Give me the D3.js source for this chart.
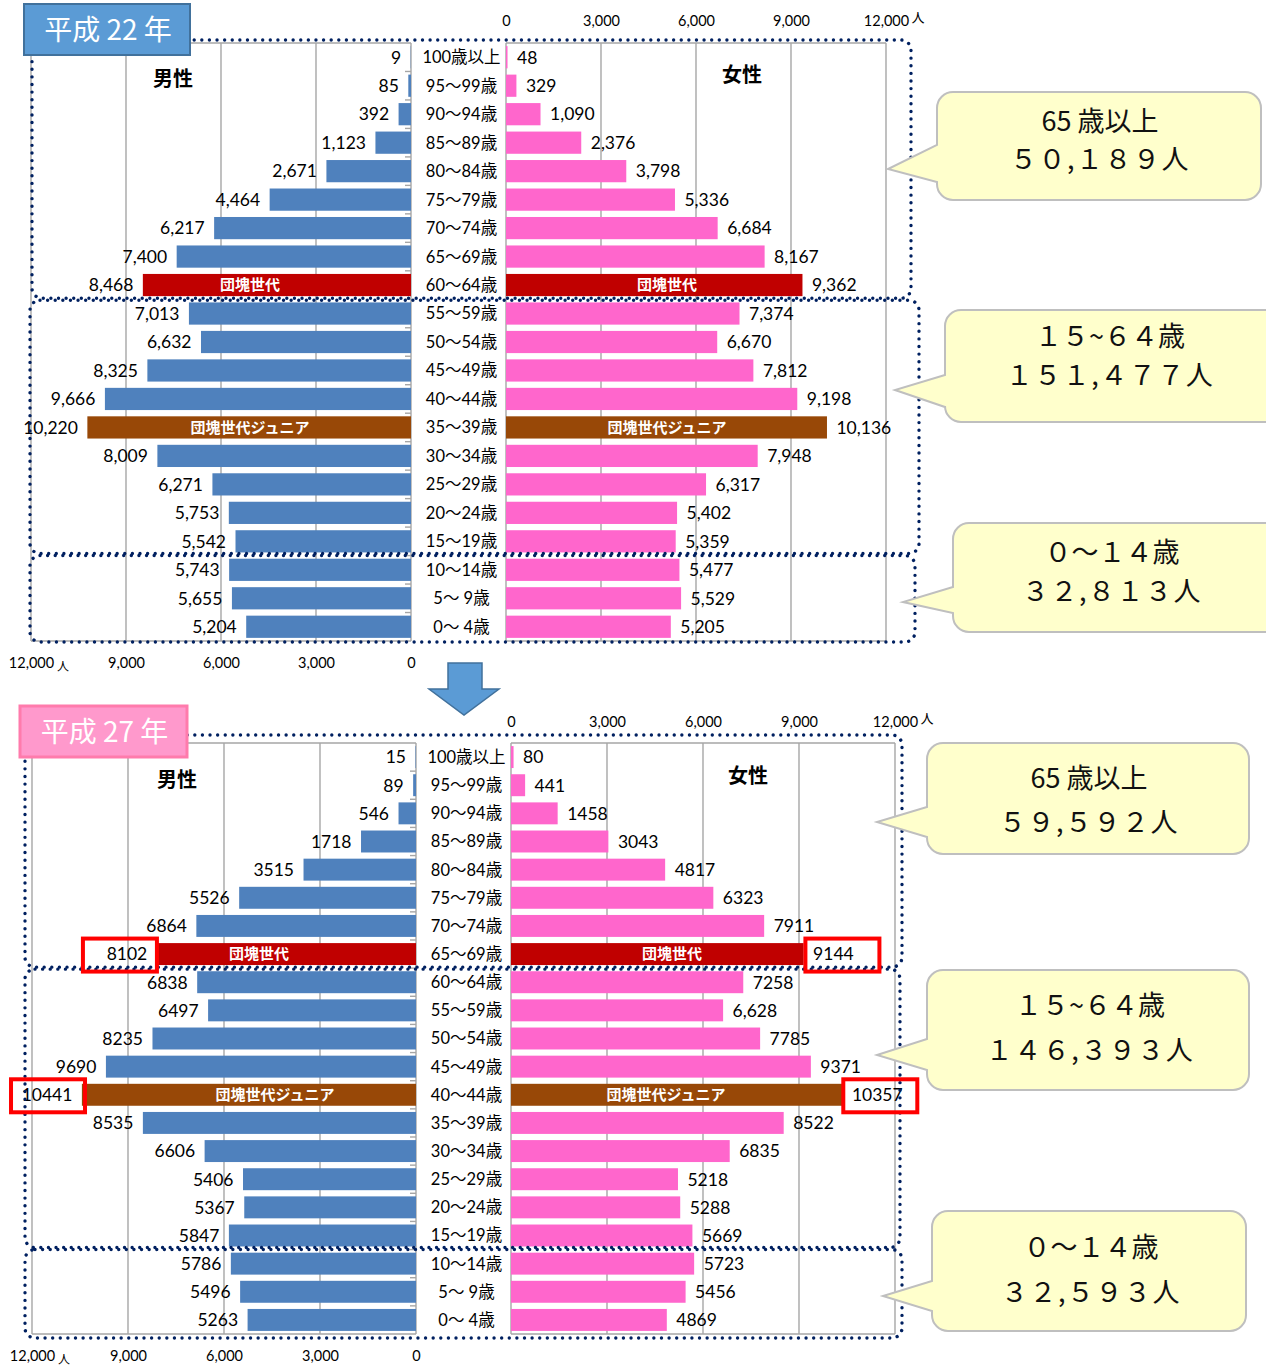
<!DOCTYPE html>
<html><head><meta charset="utf-8">
<script src="https://cdn.jsdelivr.net/npm/d3@7/dist/d3.min.js"></script>
<style>
body{margin:0;background:#fff;}
svg{display:block;}
</style></head><body>
<svg id="chart" width="1266" height="1369"></svg>
<script>
// ---------------- DATA ----------------
const ageGroups = ["100歳以上","95～99歳","90～94歳","85～89歳","80～84歳","75～79歳","70～74歳","65～69歳",
  "60～64歳","55～59歳","50～54歳","45～49歳","40～44歳","35～39歳","30～34歳","25～29歳","20～24歳",
  "15～19歳","10～14歳","5～ 9歳","0～ 4歳"];
const maleH22 = [9,85,392,1123,2671,4464,6217,7400,8468,7013,6632,8325,9666,10220,8009,6271,5753,5542,5743,5655,5204];
const femaleH22 = [48,329,1090,2376,3798,5336,6684,8167,9362,7374,6670,7812,9198,10136,7948,6317,5402,5359,5477,5529,5205];
const maleH27 = [15,89,546,1718,3515,5526,6864,8102,6838,6497,8235,9690,10441,8535,6606,5406,5367,5847,5786,5496,5263];
const femaleH27 = [80,441,1458,3043,4817,6323,7911,9144,7258,6628,7785,9371,10357,8522,6835,5218,5288,5669,5723,5456,4869];
const maleH27Labels = ["15","89","546","1718","3515","5526","6864","8102","6838","6497","8235","9690","10441","8535","6606","5406","5367","5847","5786","5496","5263"];
const femaleH27Labels = ["80","441","1458","3043","4817","6323","7911","9144","7258","6,628","7785","9371","10357","8522","6835","5218","5288","5669","5723","5456","4869"];
const axisTicks = [0, 3000, 6000, 9000, 12000];
const unitLabel = "人";
const titles = ["平成 22 年", "平成 27 年"];
const sexLabels = ["男性", "女性"];
const boomerLabels = ["団塊世代", "団塊世代ジュニア"];
const boomerAgesH22 = ["60～64歳", "35～39歳"];
const boomerAgesH27 = ["65～69歳", "40～44歳"];
const groupNames = ["65 歳以上", "１５~６４歳", "０～１４歳"];
const groupTotalsH22 = ["５０,１８９人", "１５１,４７７人", "３２,８１３人"];
const groupTotalsH27 = ["５９,５９２人", "１４６,３９３人", "３２,５９３人"];
const groupLastAgesH22 = ["60～64歳", "15～19歳"];
const groupLastAgesH27 = ["65～69歳", "15～19歳"];
const highlightAgesH27 = ["65～69歳", "40～44歳"];

// ---------------- STYLE ----------------
const C = {male:"#4F81BD", female:"#FF66CC", boomer:"#C00000", junior:"#984807",
  grid:"#A6A6A6", dot:"#002060", calloutFill:"#FFFFCC", calloutStroke:"#BFBFBF"};
const NUMFONT = "Lato, 'Noto Sans CJK JP', sans-serif";
const JPFONT = "'Noto Sans CJK JP', sans-serif";

const svg = d3.select("#chart");

function calloutPath(x, y, w, h, r, tx, ty, b1, b2) {
  return `M${x+r},${y} H${x+w-r} A${r},${r} 0 0 1 ${x+w},${y+r} V${y+h-r} A${r},${r} 0 0 1 ${x+w-r},${y+h}` +
    ` H${x+r} A${r},${r} 0 0 1 ${x},${y+h-r} V${b2} L${tx},${ty} L${x},${b1} V${y+r} A${r},${r} 0 0 1 ${x+r},${y} Z`;
}

function drawPyramid(cfg) {
  const g = svg.append("g");
  const y = d3.scaleBand().domain(ageGroups).range([cfg.top, cfg.bottom]).paddingInner(0.22).paddingOuter(0.11);
  const step = y.step();
  const xL = d3.scaleLinear().domain([0, 12000]).range([cfg.lz, cfg.lm]);
  const xR = d3.scaleLinear().domain([0, 12000]).range([cfg.rz, cfg.rm]);
  const rowTop = a => cfg.top + ageGroups.indexOf(a) * step;
  const rowBottom = a => rowTop(a) + step;

  // grid + borders
  const grid = g.append("g").attr("stroke", C.grid).attr("stroke-width", 1.4);
  [xL, xR].forEach(x => {
    grid.selectAll(null).data(axisTicks).join("line")
      .attr("x1", d => x(d)).attr("x2", d => x(d)).attr("y1", cfg.top).attr("y2", cfg.bottom);
    [cfg.top, cfg.bottom].forEach(yy => grid.append("line")
      .attr("x1", x(0)).attr("x2", x(12000)).attr("y1", yy).attr("y2", yy));
  });
  // small category ticks
  grid.selectAll(null).data(ageGroups.slice(1)).join("line")
    .attr("x1", xL(0) - 6).attr("x2", xL(0)).attr("y1", d => rowTop(d)).attr("y2", d => rowTop(d));

  const colorOf = (a, base) => a === cfg.boomer[0] ? C.boomer : a === cfg.boomer[1] ? C.junior : base;

  // bars
  g.selectAll(null).data(ageGroups).join("rect")
    .attr("x", (a, i) => xL(cfg.male[i])).attr("y", a => y(a))
    .attr("width", (a, i) => xL(0) - xL(cfg.male[i])).attr("height", y.bandwidth())
    .attr("fill", a => colorOf(a, C.male));
  g.selectAll(null).data(ageGroups).join("rect")
    .attr("x", xR(0)).attr("y", a => y(a))
    .attr("width", (a, i) => xR(cfg.female[i]) - xR(0)).attr("height", y.bandwidth())
    .attr("fill", a => colorOf(a, C.female));

  // boomer labels inside bars
  cfg.boomer.forEach((a, k) => {
    const yy = y(a) + y.bandwidth() / 2;
    g.append("text").attr("x", cfg.bLabelL[k]).attr("y", yy).attr("dy", "0.36em")
      .attr("text-anchor", "middle").attr("fill", "#fff").attr("font-weight", "bold")
      .attr("font-family", JPFONT).attr("font-size", 15).text(boomerLabels[k]);
    g.append("text").attr("x", cfg.bLabelR[k]).attr("y", yy).attr("dy", "0.36em")
      .attr("text-anchor", "middle").attr("fill", "#fff").attr("font-weight", "bold")
      .attr("font-family", JPFONT).attr("font-size", 15).text(boomerLabels[k]);
  });

  // value labels
  const lab = g.append("g").attr("font-family", NUMFONT).attr("font-size", 17.5).attr("fill", "#000");
  const maleText = lab.selectAll(null).data(ageGroups).join("text")
    .attr("x", (a, i) => xL(cfg.male[i]) - 9.5).attr("y", a => y(a) + y.bandwidth() / 2).attr("dy", "0.36em")
    .attr("text-anchor", "end").text((a, i) => cfg.maleLabels[i]);
  const femText = lab.selectAll(null).data(ageGroups).join("text")
    .attr("x", (a, i) => xR(cfg.female[i]) + 9.5).attr("y", a => y(a) + y.bandwidth() / 2).attr("dy", "0.36em")
    .attr("text-anchor", "start").text((a, i) => cfg.femaleLabels[i]);

  // age labels
  g.append("g").attr("font-family", NUMFONT).attr("font-size", 16.5).attr("fill", "#000")
    .selectAll(null).data(ageGroups).join("text")
    .attr("x", (xL(0) + xR(0)) / 2 + 3).attr("y", a => y(a) + y.bandwidth() / 2).attr("dy", "0.36em")
    .attr("text-anchor", "middle").text(a => a);

  // sex labels
  g.append("text").attr("x", cfg.sexL[0]).attr("y", cfg.sexL[1]).attr("text-anchor", "middle")
    .attr("dy", "0.36em").attr("font-family", JPFONT).attr("font-weight", "bold").attr("font-size", 20).text(sexLabels[0]);
  g.append("text").attr("x", cfg.sexR[0]).attr("y", cfg.sexR[1]).attr("text-anchor", "middle")
    .attr("dy", "0.36em").attr("font-family", JPFONT).attr("font-weight", "bold").attr("font-size", 20).text(sexLabels[1]);

  // axes
  const fmt = d3.format(",");
  const ax1 = g.append("g").attr("transform", `translate(0,${cfg.topAxisY})`)
    .call(d3.axisTop(xR).tickValues(axisTicks).tickFormat(fmt).tickSize(0).tickPadding(0));
  const ax2 = g.append("g").attr("transform", `translate(0,${cfg.bottomAxisY})`)
    .call(d3.axisBottom(xL).tickValues(axisTicks).tickFormat(fmt).tickSize(0).tickPadding(0));
  [ax1, ax2].forEach(ax => {
    ax.select(".domain").remove();
    ax.attr("font-family", NUMFONT).attr("font-size", 14.5);
    ax.selectAll("text").attr("fill", "#000");
  });
  g.append("text").attr("x", xR(12000) + 32).attr("y", cfg.topAxisY - 4).attr("text-anchor", "middle")
    .attr("font-family", JPFONT).attr("font-size", 13).text(unitLabel);
  g.append("text").attr("x", xL(12000) + 32).attr("y", cfg.bottomAxisY + 12.5).attr("text-anchor", "middle")
    .attr("font-family", JPFONT).attr("font-size", 12).text(unitLabel);

  // dotted group outlines
  const b1 = rowBottom(cfg.groupLast[0]), b2 = rowBottom(cfg.groupLast[1]);
  const regions = [
    {x1: cfg.dot[0][0], x2: cfg.dot[0][1], y1: cfg.top - cfg.dotTopPad, y2: b1 - 1},
    {x1: cfg.dot[1][0], x2: cfg.dot[1][1], y1: b1 + 1, y2: b2 - 2},
    {x1: cfg.dot[2][0], x2: cfg.dot[2][1], y1: b2, y2: cfg.bottom + cfg.dotBottomPad}
  ];
  g.append("g").selectAll(null).data(regions).join("rect")
    .attr("x", d => d.x1).attr("y", d => d.y1).attr("width", d => d.x2 - d.x1).attr("height", d => d.y2 - d.y1)
    .attr("rx", 10).attr("fill", "none").attr("stroke", C.dot).attr("stroke-width", 3.4)
    .attr("stroke-linecap", "round").attr("stroke-dasharray", "0.01 7.6");

  // title box
  const tb = cfg.title;
  g.append("rect").attr("x", tb.x).attr("y", tb.y).attr("width", tb.w).attr("height", tb.h)
    .attr("fill", tb.fill).attr("stroke", tb.stroke).attr("stroke-width", tb.sw);
  g.append("text").attr("x", tb.x + tb.w / 2 + 1).attr("y", tb.y + tb.h / 2).attr("dy", "0.36em")
    .attr("text-anchor", "middle").attr("fill", "#fff").attr("font-family", JPFONT).attr("font-size", 28)
    .text(cfg.titleText);

  // callouts
  cfg.callouts.forEach((c, k) => {
    g.append("path").attr("d", calloutPath(c.x, c.y, c.w, c.h, 16, c.tx, c.ty, c.b1, c.b2))
      .attr("fill", C.calloutFill).attr("stroke", C.calloutStroke).attr("stroke-width", 2);
    const t = g.append("g").attr("font-family", JPFONT).attr("font-size", 27).attr("fill", "#111")
      .attr("text-anchor", "middle");
    t.append("text").attr("x", c.cx).attr("y", c.l1).attr("dy", "0.36em").text(groupNames[k]);
    t.append("text").attr("x", c.cx).attr("y", c.l2).attr("dy", "0.36em").attr("letter-spacing", 1.5).text(cfg.totals[k]);
  });

  // highlight boxes
  if (cfg.highlight) {
    const hl = g.append("g").attr("fill", "none").attr("stroke", "#FF0000").attr("stroke-width", 4);
    [[maleText, -1], [femText, 1]].forEach(([sel, dir]) => {
      sel.filter(a => cfg.highlight.includes(a)).each(function(a) {
        const bb = this.getBBox();
        const narrow = bb.width < 45;
        const shift = dir < 0 ? (narrow ? -7 : 1) : (narrow ? 9 : 3);
        const cx = bb.x + bb.width / 2 + shift;
        const cy = y(a) + y.bandwidth() / 2 + 1;
        hl.append("rect").attr("x", cx - 37).attr("y", cy - 16.5).attr("width", 74).attr("height", 33);
      });
    });
  }
}

const c3 = d3.format(",");

drawPyramid({
  top: 43, bottom: 641, lz: 411, lm: 31, rz: 506, rm: 886,
  topAxisY: 26, bottomAxisY: 658,
  male: maleH22, female: femaleH22,
  maleLabels: maleH22.map(c3), femaleLabels: femaleH22.map(c3),
  boomer: boomerAgesH22, bLabelL: [250, 250], bLabelR: [667, 667],
  sexL: [173, 79], sexR: [742, 75],
  groupLast: groupLastAgesH22,
  dot: [[32, 911], [30, 919], [30, 915]], dotTopPad: 3, dotBottomPad: 1,
  titleText: titles[0],
  title: {x: 24, y: 4, w: 166, h: 51, fill: "#5B9BD5", stroke: "#41719C", sw: 2},
  totals: groupTotalsH22,
  callouts: [
    {x: 937, y: 92, w: 324, h: 108, tx: 888, ty: 169, b1: 145, b2: 182, cx: 1100, l1: 121, l2: 159},
    {x: 945, y: 310, w: 345, h: 112, tx: 895, ty: 390, b1: 375, b2: 407, cx: 1110, l1: 336, l2: 375},
    {x: 953, y: 523, w: 340, h: 109, tx: 903, ty: 602, b1: 587, b2: 613, cx: 1112, l1: 552, l2: 591}
  ]
});

drawPyramid({
  top: 743, bottom: 1334, lz: 416, lm: 32, rz: 511, rm: 895,
  topAxisY: 727, bottomAxisY: 1351,
  male: maleH27, female: femaleH27,
  maleLabels: maleH27Labels, femaleLabels: femaleH27Labels,
  boomer: boomerAgesH27, bLabelL: [259, 275], bLabelR: [672, 666],
  sexL: [177, 780], sexR: [748, 776],
  groupLast: groupLastAgesH27,
  dot: [[25, 902], [25, 900], [25, 902]], dotTopPad: 8, dotBottomPad: 4,
  titleText: titles[1],
  title: {x: 20, y: 706, w: 167, h: 51, fill: "#FF99CC", stroke: "#FF7BAC", sw: 3},
  totals: groupTotalsH27,
  highlight: highlightAgesH27,
  callouts: [
    {x: 927, y: 743, w: 322, h: 111, tx: 877, ty: 822, b1: 807, b2: 837, cx: 1089, l1: 778, l2: 822},
    {x: 927, y: 970, w: 322, h: 120, tx: 877, ty: 1055, b1: 1039, b2: 1070, cx: 1090, l1: 1005, l2: 1050},
    {x: 932, y: 1211, w: 314, h: 120, tx: 883, ty: 1296, b1: 1281, b2: 1311, cx: 1091, l1: 1247, l2: 1292}
  ]
});

// arrow between the two pyramids
svg.append("path")
  .attr("d", "M448,663 H482 V689 H499 L464,715 L429,689 H448 Z")
  .attr("fill", "#5B9BD5").attr("stroke", "#41719C").attr("stroke-width", 1.5);
</script>
</body></html>
